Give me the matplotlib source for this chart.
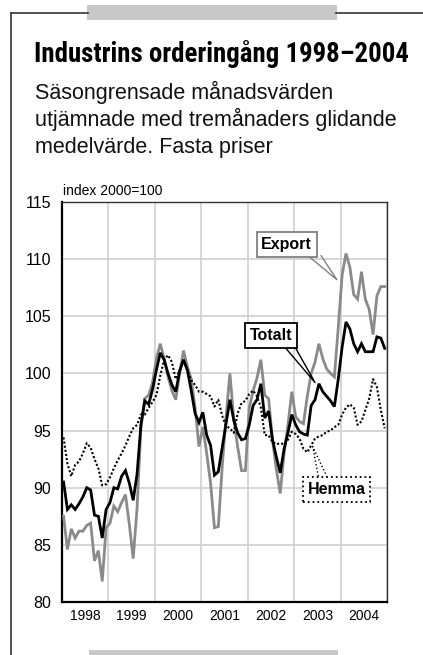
import matplotlib
matplotlib.use("Agg")
import matplotlib.pyplot as plt
from matplotlib import font_manager as fm
from matplotlib.lines import Line2D
from matplotlib.patches import Rectangle
import numpy as np

# ---------------- data (monthly, Jan 1998 - Dec 2004) ----------------
years = [1998, 1999, 2000, 2001, 2002, 2003, 2004]
year_labels = ["1998", "1999", "2000", "2001", "2002", "2003", "2004"]
y_ticks = [80, 85, 90, 95, 100, 105, 110, 115]

totalt = [90.5, 88.1, 88.5, 88.1, 88.6, 89.2, 90.0, 89.8, 87.6, 87.5, 85.6, 88.1,
          88.7, 90.0, 89.9, 91.0, 91.5, 90.4, 88.9, 91.2, 95.5, 97.6, 97.3, 98.6,
          100.3, 101.8, 101.2, 100.0, 99.0, 98.4, 100.2, 101.2, 100.3, 98.5, 96.5, 95.7,
          96.6, 94.6, 93.7, 91.1, 91.4, 93.5, 95.6, 97.7, 95.9, 94.8, 94.2, 94.3,
          95.5, 97.2, 97.7, 99.1, 96.1, 96.7, 94.2, 92.7, 91.3, 93.4, 94.8, 96.4,
          95.5, 94.9, 94.7, 94.6, 97.2, 97.7, 99.1, 98.4, 98.0, 97.6, 97.1, 99.5,
          102.3, 104.5, 103.9, 102.6, 101.9, 102.6, 101.9, 101.9, 101.9, 103.2, 103.1, 102.2]

export = [87.5, 84.6, 86.4, 85.6, 86.2, 86.2, 86.7, 86.9, 83.6, 84.5, 81.8, 86.5,
          86.9, 88.4, 87.9, 88.7, 89.4, 86.8, 83.8, 88.2, 95.3, 97.8, 98.1, 99.2,
          101.3, 102.6, 101.3, 99.7, 98.5, 97.7, 100.0, 102.0, 100.6, 99.5, 97.0, 93.6,
          95.3, 93.0, 90.4, 86.5, 86.6, 91.8, 96.2, 100.0, 96.0, 93.6, 91.5, 91.5,
          97.0, 98.5, 99.6, 101.2, 98.1, 97.8, 94.2, 91.6, 89.5, 93.0, 95.5, 98.4,
          96.2, 95.8, 95.6, 98.0, 100.0, 101.0, 102.6, 101.3, 100.4, 100.0, 99.7, 104.0,
          108.6, 110.5, 109.3, 106.9, 106.5, 108.9, 106.5, 105.6, 103.4, 106.8, 107.6, 107.6]

hemma = [94.4, 92.1, 91.0, 92.0, 92.3, 93.0, 93.9, 93.5, 92.5, 91.7, 90.2, 90.3,
         90.9, 91.7, 92.4, 93.0, 93.7, 94.5, 95.2, 95.5, 96.4, 96.4, 97.0, 97.5,
         98.1, 99.8, 101.2, 101.6, 101.0, 99.5, 100.3, 101.2, 100.2, 99.4, 99.0, 98.4,
         98.4, 98.2, 98.0, 97.1, 97.7, 96.3, 95.4, 95.2, 94.8, 96.5, 97.4, 97.6,
         98.2, 98.5, 98.0, 97.0, 94.6, 94.6, 94.0, 93.8, 93.9, 93.8, 94.2, 94.9,
         94.7, 94.3, 93.4, 93.1, 93.7, 94.3, 94.5, 94.6, 94.9, 95.0, 95.3, 95.5,
         96.4, 97.0, 97.3, 97.0, 95.5, 95.8, 96.8, 97.8, 99.5, 98.8, 96.8, 95.2]

months = 1998 + (np.arange(len(totalt)) + 0.4) / 12.0

# ---------------- fonts ----------------
names = {f.name for f in fm.fontManager.ttflist}
narrow = "Liberation Sans"
for cand in ["Roboto Condensed", "Liberation Sans Narrow", "Arial Narrow", "Nimbus Sans Narrow"]:
    if cand in names:
        narrow = cand
        break
reg = "Liberation Sans"
plt.rcParams["font.family"] = [reg, "DejaVu Sans"]

W, H = 423, 655
fig = plt.figure(figsize=(W / 100, H / 100), dpi=100)
fig.patch.set_facecolor("white")

def fx(px):
    return px / W

def fy(py):
    return 1 - py / H

# ---------------- frame decorations ----------------
frame_col = "#333333"
fig.add_artist(Line2D([fx(11), fx(11)], [fy(13), fy(655)], color=frame_col, lw=1.2))
fig.add_artist(Line2D([fx(11), fx(88)], [fy(13), fy(13)], color=frame_col, lw=1.2))
fig.add_artist(Line2D([fx(336), fx(423)], [fy(13), fy(13)], color=frame_col, lw=1.2))
fig.add_artist(Rectangle((fx(87), fy(20)), fx(250), 15 / H, color="#c8c8c8", lw=0))
fig.add_artist(Rectangle((fx(89), fy(655)), fx(249), 5 / H, color="#c8c8c8", lw=0))

# ---------------- titles ----------------
title = fig.text(fx(34), fy(62), "Industrins orderingång 1998–2004", family=[narrow, "DejaVu Sans"],
                 fontweight="bold", fontsize=17.5, va="baseline", ha="left", color="black")
subs = ["Säsongrensade månadsvärden",
        "utjämnade med tremånaders glidande",
        "medelvärde. Fasta priser"]
for k, s in enumerate(subs):
    fig.text(fx(35), fy(99 + 27 * k), s, fontsize=15.5, va="baseline", ha="left", color="#111111")

fig.text(fx(63), fy(195), "index 2000=100", fontsize=10, va="baseline", ha="left")

# fit title width to the reference (about 374 px)
fig.canvas.draw()
bb = title.get_window_extent(renderer=fig.canvas.get_renderer())
title.set_fontsize(17.5 * 374.0 / bb.width)

# ---------------- axes ----------------
ax = fig.add_axes([fx(62), fy(602), fx(387) - fx(62), (602 - 202) / H])
ax.set_xlim(1998, 2005)
ax.set_ylim(80, 115)
ax.set_yticks(y_ticks)
ax.set_yticklabels([str(v) for v in y_ticks], fontsize=11.5)
ax.set_xticks(years[1:] + [2005])
ax.set_xticklabels([])
ax.set_xticks([y + 0.5 for y in years], minor=True)
ax.set_xticklabels(year_labels, minor=True, fontsize=10)
ax.tick_params(axis="both", which="both", length=0)
ax.tick_params(axis="y", pad=8)
ax.tick_params(axis="x", which="minor", pad=5)
ax.grid(True, which="major", color="#d0d0d0", lw=1.2)
ax.set_axisbelow(True)
for side in ["left", "bottom"]:
    ax.spines[side].set_color("black")
    ax.spines[side].set_linewidth(1.6)
for side in ["top", "right"]:
    ax.spines[side].set_color("#333333")
    ax.spines[side].set_linewidth(1.0)

ax.plot(months, export, color="#8a8a8a", lw=2.0, solid_joinstyle="miter", zorder=3)
ax.plot(months, hemma, color="black", lw=1.5, linestyle=(0, (1, 1)), zorder=4)
ax.plot(months, totalt, color="black", lw=2.0, solid_joinstyle="miter", zorder=5)

# ---------------- callouts ----------------
def callout(text, xy_text, base, tip, color, ls, fontsize=11.5):
    (bx1, by), (bx2, _) = base
    ax.plot([bx1, tip[0], bx2], [by, tip[1], by], color=color, lw=1.0, ls=ls, zorder=6,
            clip_on=False)
    ax.text(xy_text[0], xy_text[1], text, ha="center", va="center", fontsize=fontsize,
            fontweight="bold", family=[reg, "DejaVu Sans"], zorder=7,
            bbox=dict(boxstyle="square,pad=0.3", fc="white", ec=color, lw=1.3, ls=ls))

callout("Export", (2002.84, 111.3), ((2003.30, 110.3), (2003.58, 110.3)), (2003.92, 108.2),
        "#808080", "-")
callout("Totalt", (2002.51, 103.3), ((2002.80, 102.3), (2003.02, 102.3)), (2003.45, 99.2),
        "black", "-")
callout("Hemma", (2003.91, 89.85), ((2003.52, 91.0), (2003.70, 91.0)), (2003.40, 93.6),
        "black", ":")

fig.savefig("out.png", dpi=100, facecolor="white")
